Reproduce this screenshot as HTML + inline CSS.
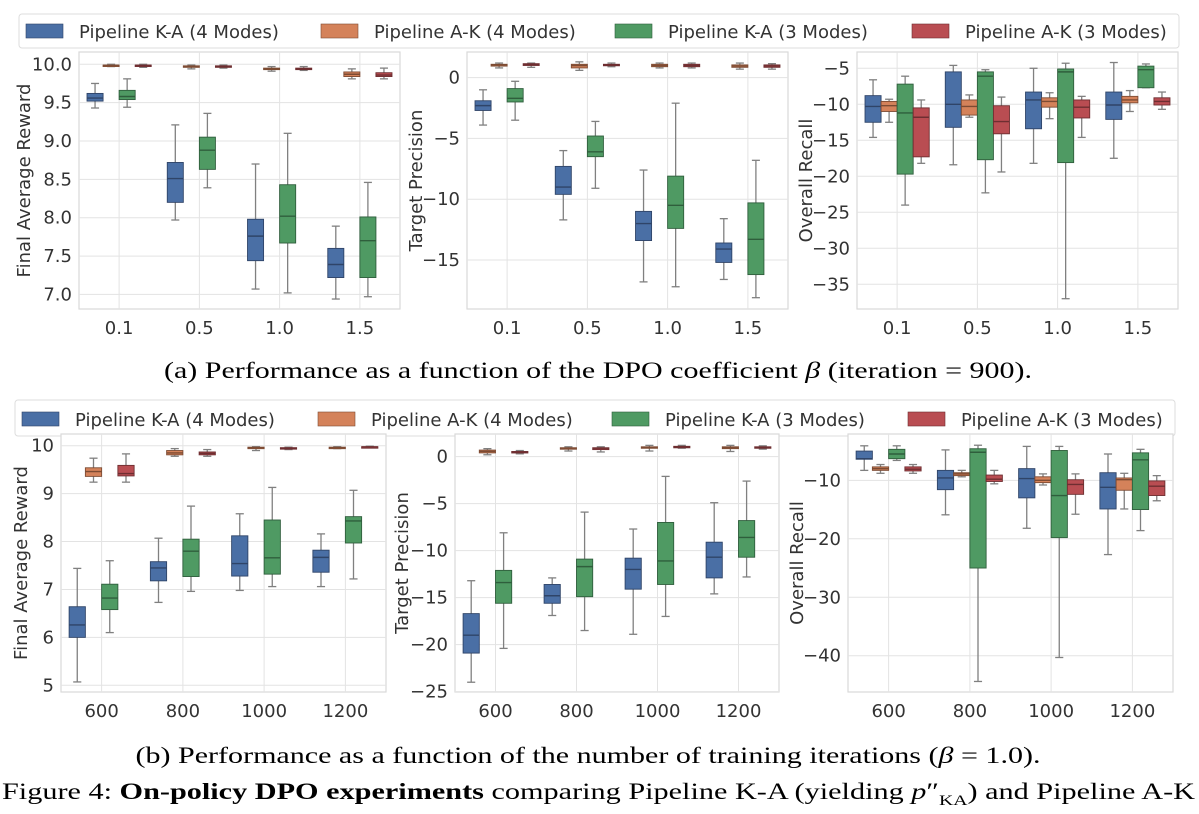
<!DOCTYPE html>
<html><head><meta charset="utf-8">
<style>
html,body{margin:0;padding:0;background:#fff;}
svg{display:block;font-family:"DejaVu Sans","Liberation Sans",sans-serif;}
.tick{font-size:18px;fill:#333;}
.ylab{font-size:18px;fill:#333;}
.leg{font-size:18px;fill:#333;}
.cap{font-family:"Liberation Serif",serif;font-size:23px;fill:#000;}
</style></head>
<body>
<svg id="fig" width="1199" height="814" viewBox="0 0 1199 814">
<rect x="19" y="14" width="1160" height="34" rx="3" fill="#fff" stroke="#ddd"/>
<rect x="15" y="400" width="1160" height="36" rx="3" fill="#fff" stroke="#ddd"/>
<g id="legends"></g>
<g id="panels"></g>
<text class="cap" x="598" y="378" text-anchor="middle" textLength="868" lengthAdjust="spacingAndGlyphs">(a) Performance as a function of the DPO coefficient <tspan font-style="italic">β</tspan> (iteration = 900).</text>
<text class="cap" x="588" y="763" text-anchor="middle" textLength="905" lengthAdjust="spacingAndGlyphs">(b) Performance as a function of the number of training iterations (<tspan font-style="italic">β</tspan> = 1.0).</text>
<text class="cap" x="2" y="799" textLength="1193" lengthAdjust="spacingAndGlyphs">Figure 4:  <tspan font-weight="bold">On-policy DPO experiments</tspan> comparing Pipeline K-A (yielding <tspan font-style="italic">p</tspan>″<tspan font-size="15" dy="6">KA</tspan><tspan dy="-6">) and Pipeline A-K</tspan></text>
</svg>
<script>
// ---- data ----
const seriesNames = ["Pipeline K-A (4 Modes)","Pipeline A-K (4 Modes)","Pipeline K-A (3 Modes)","Pipeline A-K (3 Modes)"];
const catsBeta = ["0.1","0.5","1.0","1.5"];
const catsIter = ["600","800","1000","1200"];
// each entry: [category][series] = [whiskerLow, q1, median, q3, whiskerHigh]
const rewardBeta = [
 [[9.43,9.52,9.56,9.62,9.75],[9.97,9.98,9.985,9.99,10.0],[9.44,9.54,9.58,9.66,9.81],[9.96,9.98,9.985,9.99,10.0]],
 [[7.97,8.2,8.51,8.72,9.21],[9.94,9.96,9.97,9.98,9.99],[8.39,8.63,8.88,9.05,9.36],[9.95,9.96,9.97,9.98,9.99]],
 [[7.07,7.44,7.76,7.98,8.7],[9.91,9.93,9.94,9.95,9.97],[7.02,7.67,8.02,8.43,9.1],[9.92,9.93,9.94,9.95,9.97]],
 [[6.94,7.22,7.39,7.6,7.89],[9.81,9.84,9.87,9.9,9.94],[6.97,7.22,7.7,8.01,8.46],[9.81,9.84,9.86,9.89,9.95]]];
const precBeta = [
 [[-3.9,-2.7,-2.3,-1.9,-1.0],[0.8,0.95,1.05,1.1,1.2],[-3.5,-2.0,-1.7,-0.9,-0.3],[0.85,1.0,1.1,1.15,1.2]],
 [[-11.7,-9.6,-9.0,-7.3,-6.0],[0.6,0.8,1.0,1.1,1.3],[-9.1,-6.5,-6.1,-4.8,-3.6],[0.9,1.0,1.05,1.1,1.2]],
 [[-16.8,-13.4,-12.0,-11.0,-7.6],[0.8,0.9,1.0,1.1,1.2],[-17.2,-12.4,-10.5,-8.1,-2.1],[0.8,0.9,1.0,1.1,1.2]],
 [[-16.6,-15.2,-14.1,-13.6,-11.6],[0.7,0.85,0.95,1.05,1.2],[-18.1,-16.2,-13.3,-10.3,-6.8],[0.7,0.85,0.95,1.05,1.15]]];
const recallBeta = [
 [[-14.6,-12.5,-10.3,-8.8,-6.6],[-12.5,-11.0,-10.2,-9.6,-9.3],[-24,-19.7,-11.2,-7.2,-6.1],[-18.2,-17.3,-11.8,-10.5,-9.4]],
 [[-18.4,-13.2,-10,-5.5,-4.6],[-11.8,-11.5,-10.3,-9.4,-8.7],[-22.3,-17.7,-6.1,-5.5,-5.2],[-19.4,-14.1,-12.4,-10.2,-9.0]],
 [[-18.2,-13.4,-9.4,-8.3,-5.0],[-12.0,-10.4,-9.6,-9.1,-8.4],[-37.0,-18.1,-5.5,-5.1,-4.3],[-14.6,-11.9,-10.4,-9.4,-8.9]],
 [[-17.5,-12.1,-10.1,-8.3,-4.2],[-11.0,-9.8,-9.4,-8.9,-8.1],[-7.7,-7.7,-5.2,-4.7,-4.4],[-10.7,-10.1,-9.6,-9.1,-8.3]]];
const rewardIter = [
 [[5.07,6.0,6.26,6.64,7.44],[9.24,9.36,9.46,9.54,9.74],[6.1,6.58,6.82,7.11,7.6],[9.24,9.37,9.42,9.59,9.83]],
 [[6.73,7.18,7.45,7.58,8.07],[9.78,9.81,9.85,9.9,9.94],[6.96,7.27,7.8,8.05,8.74],[9.78,9.81,9.84,9.87,9.92]],
 [[6.98,7.28,7.54,8.12,8.58],[9.9,9.94,9.96,9.97,9.98],[7.06,7.32,7.66,8.45,9.13],[9.92,9.93,9.94,9.96,9.97]],
 [[7.06,7.36,7.67,7.82,8.16],[9.94,9.95,9.96,9.97,9.98],[7.22,7.97,8.43,8.52,9.07],[9.96,9.97,9.975,9.98,9.99]]];
const precIter = [
 [[-24,-20.9,-19,-16.7,-13.2],[0.2,0.4,0.55,0.7,0.85],[-20.4,-15.6,-13.4,-12.1,-8.1],[0.3,0.4,0.5,0.55,0.65]],
 [[-16.9,-15.6,-14.8,-13.6,-12.9],[0.6,0.8,0.9,0.95,1.05],[-18.5,-14.9,-11.7,-10.9,-5.9],[0.5,0.75,0.9,0.95,1.05]],
 [[-18.9,-14.1,-12,-10.8,-7.7],[0.6,0.95,1.0,1.05,1.2],[-17.0,-13.6,-11.1,-7.0,-2.1],[0.9,1.0,1.05,1.1,1.2]],
 [[-14.6,-12.9,-10.7,-9.1,-4.9],[0.55,0.85,0.95,1.05,1.2],[-12.8,-10.7,-8.6,-6.8,-2.6],[0.8,0.9,1.0,1.05,1.15]]];
const recallIter = [
 [[-8.3,-6.4,-6.3,-5.0,-4.1],[-8.8,-8.3,-8.0,-7.7,-7.3],[-6.6,-6.3,-5.5,-4.7,-4.1],[-8.8,-8.4,-8.1,-7.7,-7.3]],
 [[-15.9,-11.6,-9.6,-8.3,-4.8],[-9.4,-9.2,-8.9,-8.7,-8.3],[-44.4,-25,-5.2,-4.6,-4.0],[-10.6,-10.2,-9.8,-9.1,-8.3]],
 [[-18.2,-13.0,-9.7,-8.0,-4.2],[-10.8,-10.4,-10.0,-9.4,-8.9],[-40.3,-19.8,-12.6,-4.9,-4.2],[-15.8,-12.4,-10.7,-9.9,-8.9]],
 [[-22.7,-14.9,-11.2,-8.7,-5.5],[-14.9,-11.7,-9.9,-9.6,-8.8],[-18.6,-15.0,-6.5,-5.3,-4.7],[-13.5,-12.6,-11.0,-10.1,-9.2]]];
const ticksRewardBeta = [7.0,7.5,8.0,8.5,9.0,9.5,10.0];
const ticksPrecBeta = [-15,-10,-5,0];
const ticksRecallBeta = [-35,-30,-25,-20,-15,-10,-5];
const ticksRewardIter = [5,6,7,8,9,10];
const ticksPrecIter = [-25,-20,-15,-10,-5,0];
const ticksRecallIter = [-40,-30,-20,-10];

const fills = ["#4A6FA5","#D4825A","#4F9A63","#B94D52"];
const edges = ["#2f4468","#7d4b33","#2f5e3c","#6e2e31"];
const NS = "http://www.w3.org/2000/svg";
function mk(tag, attrs, parent){const e=document.createElementNS(NS,tag);for(const k in attrs)e.setAttribute(k,attrs[k]);parent.appendChild(e);return e;}

const panels = [
 {name:"reward-vs-beta", data:rewardBeta, cats:catsBeta, ticks:ticksRewardBeta, dec:1, label:"Final Average Reward", x0:79,x1:400,y0:52,y1:309, vmin:6.81, vmax:10.16, labX:24},
 {name:"precision-vs-beta", data:precBeta, cats:catsBeta, ticks:ticksPrecBeta, dec:0, label:"Target Precision", x0:467,x1:788,y0:52,y1:309, vmin:-19.03, vmax:2.11, labX:416},
 {name:"recall-vs-beta", data:recallBeta, cats:catsBeta, ticks:ticksRecallBeta, dec:0, label:"Overall Recall", x0:857,x1:1178,y0:52,y1:309, vmin:-38.43, vmax:-2.74, labX:806},
 {name:"reward-vs-iter", data:rewardIter, cats:catsIter, ticks:ticksRewardIter, dec:0, label:"Final Average Reward", x0:61,x1:386,y0:434,y1:692, vmin:4.86, vmax:10.245, labX:21},
 {name:"precision-vs-iter", data:precIter, cats:catsIter, ticks:ticksPrecIter, dec:0, label:"Target Precision", x0:455,x1:779,y0:434,y1:692, vmin:-25.04, vmax:2.41, labX:402},
 {name:"recall-vs-iter", data:recallIter, cats:catsIter, ticks:ticksRecallIter, dec:0, label:"Overall Recall", x0:848,x1:1173,y0:434,y1:692, vmin:-46.2, vmax:-2.08, labX:797}
];
const root = document.getElementById("panels");
panels.forEach(p=>{
  const g = mk("g",{},root);
  
  
  const n = p.cats.length, band=(p.x1-p.x0)/n;
  const xc = i=>p.x0+band*(i+0.5);
  const y = v=>p.y1-(v-p.vmin)/(p.vmax-p.vmin)*(p.y1-p.y0);
  const slot = band*0.8/4;
  mk("rect",{x:p.x0,y:p.y0,width:p.x1-p.x0,height:p.y1-p.y0,fill:"#fff",stroke:"#d9d9d9","stroke-width":1.2},g);
  p.ticks.forEach(t=>{
    const yy=y(t);
    mk("line",{x1:p.x0,x2:p.x1,y1:yy,y2:yy,stroke:"#e3e3e3","stroke-width":1},g);
    const tx=mk("text",{x:p.x0-7,y:yy+6,"text-anchor":"end",class:"tick"},g);
    tx.textContent=(t<0?"\u2212":"")+Math.abs(t).toFixed(p.dec);
    
    
  });
  p.cats.forEach((c,i)=>{
    const xx=xc(i);
    mk("line",{x1:xx,x2:xx,y1:p.y0,y2:p.y1,stroke:"#e3e3e3","stroke-width":1},g);
    const tx=mk("text",{x:xx,y:p.y1+25,"text-anchor":"middle",class:"tick"},g);
    tx.textContent=c;
    
    
  });
  p.data.forEach((cat,i)=>{
    cat.forEach((s,j)=>{
      const cx = xc(i)+(j-1.5)*slot, w=slot, [lo,q1,md,q3,hi]=s;
      const bg = mk("g",{},g);
      
      
      mk("line",{x1:cx,x2:cx,y1:y(hi),y2:y(q3),stroke:"#808080","stroke-width":1.3},bg);
      mk("line",{x1:cx,x2:cx,y1:y(q1),y2:y(lo),stroke:"#808080","stroke-width":1.3},bg);
      mk("line",{x1:cx-w/4,x2:cx+w/4,y1:y(hi),y2:y(hi),stroke:"#808080","stroke-width":1.3},bg);
      mk("line",{x1:cx-w/4,x2:cx+w/4,y1:y(lo),y2:y(lo),stroke:"#808080","stroke-width":1.3},bg);
      mk("rect",{x:cx-w/2,y:y(q3),width:w,height:Math.max(1.5,y(q1)-y(q3)),fill:fills[j],stroke:edges[j],"stroke-width":0.9},bg);
      mk("line",{x1:cx-w/2,x2:cx+w/2,y1:y(md),y2:y(md),stroke:edges[j],"stroke-width":1.4},bg);
    });
  });
  const cy=(p.y0+p.y1)/2;
  const lab=mk("text",{x:p.labX,y:cy,"text-anchor":"middle",class:"ylab",transform:`rotate(-90 ${p.labX} ${cy})`,dy:"6"},g);
  lab.textContent=p.label;
  
  
});
// legends
const lg=document.getElementById("legends");
const legRows=[{py:24,ty:38,px:[26,321,615,912]},{py:412,ty:426,px:[22,318,612,908]}];
legRows.forEach(r=>{
  seriesNames.forEach((s,j)=>{
    const e=mk("g",{},lg);
    
    
    mk("rect",{x:r.px[j],y:r.py,width:37,height:14,fill:fills[j],stroke:edges[j],"stroke-width":0.6},e);
    const t=mk("text",{x:r.px[j]+53,y:r.ty,class:"leg"},e);
    t.textContent=s;
  });
});
</script>
</body></html>
